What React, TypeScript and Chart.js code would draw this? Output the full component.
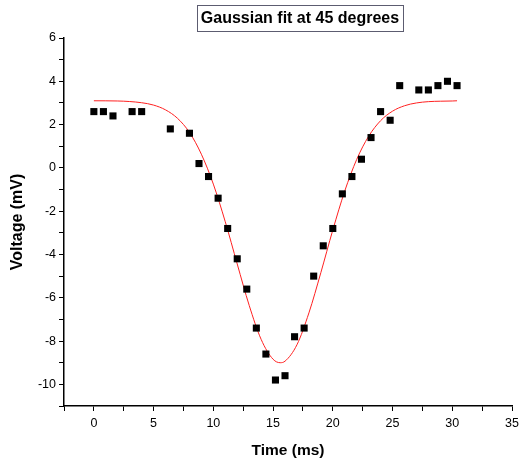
import React, { useEffect, useRef } from "react";
import { Chart, registerables } from "chart.js";

Chart.register(...registerables);

const TITLE = "Gaussian fit at 45 degrees";
const X_TITLE = "Time (ms)";
const Y_TITLE = "Voltage (mV)";

// measured data (Time ms, Voltage mV)
const timeData = [0, 0.8, 1.6, 3.2, 4.0, 6.4, 8.0, 8.8, 9.6, 10.4, 11.2, 12.0, 12.8, 13.6, 14.4, 15.2, 16.0, 16.8, 17.6, 18.4, 19.2, 20.0, 20.8, 21.6, 22.4, 23.2, 24.0, 24.8, 25.6, 27.2, 28.0, 28.8, 29.6, 30.4];
const voltageData = [2.6, 2.6, 2.4, 2.6, 2.6, 1.8, 1.6, 0.2, -0.4, -1.4, -2.8, -4.2, -5.6, -7.4, -8.6, -9.8, -9.6, -7.8, -7.4, -5.0, -3.6, -2.8, -1.2, -0.4, 0.4, 1.4, 2.6, 2.2, 3.8, 3.6, 3.6, 3.8, 4.0, 3.8];

// fit curve
const fitTime = [0, 2, 4, 5, 6, 7, 8, 9, 10, 11, 12, 13, 14, 15, 15.6, 16, 17, 18, 19, 20, 21, 22, 23, 24, 25, 26, 27, 28, 29, 30, 30.4];
const fitVoltage = [3.1, 3.09, 3.01, 2.9, 2.68, 2.29, 1.64, 0.63, -0.75, -2.49, -4.44, -6.35, -7.92, -8.84, -9.0, -8.93, -8.17, -6.7, -4.84, -2.87, -1.07, 0.39, 1.46, 2.18, 2.62, 2.87, 3.0, 3.06, 3.08, 3.09, 3.1];

const FONT = '"Liberation Sans", Arial, sans-serif';

const titleBoxPlugin = {
  id: "titleBox",
  afterDraw(chart: any) {
    const ctx = chart.ctx;
    ctx.save();
    ctx.font = `bold 16px ${FONT}`;
    const w = ctx.measureText(TITLE).width;
    const cx = 300;
    const cy = 18.5;
    const left = Math.round(cx - w / 2 - 4) + 0.5;
    const right = Math.round(cx + w / 2 + 4) + 0.5;
    ctx.strokeStyle = "#5c5c70";
    ctx.lineWidth = 1;
    ctx.strokeRect(left, 5.5, right - left, 26);
    ctx.fillStyle = "#000";
    ctx.textAlign = "center";
    ctx.textBaseline = "middle";
    ctx.fillText(TITLE, cx, cy + 0.5);
    ctx.restore();
  },
};

export default function App() {
  const ref = useRef<HTMLCanvasElement | null>(null);
  useEffect(() => {
    if (!ref.current) return;
    const chart = new Chart(ref.current, {
      type: "scatter",
      data: {
        datasets: [
          {
            label: "data",
            data: timeData.map((t, i) => ({ x: t, y: voltageData[i] })),
            pointStyle: "rect",
            pointRadius: 5,
            backgroundColor: "#000",
            borderColor: "#000",
            borderWidth: 0,
            showLine: false,
            order: 1,
          },
          {
            label: "fit",
            data: fitTime.map((t, i) => ({ x: t, y: fitVoltage[i] })),
            showLine: true,
            pointRadius: 0,
            borderColor: "#ff2020",
            borderWidth: 1,
            cubicInterpolationMode: "monotone",
            order: 2,
          } as any,
        ],
      },
      options: {
        animation: false,
        responsive: false,
        events: [],
        layout: { padding: { top: 38, right: 16, bottom: 0, left: 8 } },
        plugins: {
          legend: { display: false },
          tooltip: { enabled: false },
          title: { display: false },
        },
        scales: {
          x: {
            type: "linear",
            min: -2.5,
            max: 35,
            afterFit(scale: any) {
              scale.height = 54;
            },
            border: { display: true, color: "#000", width: 1.5 },
            grid: { drawOnChartArea: false, drawTicks: true, tickLength: 5, tickColor: "#000" },
            ticks: {
              stepSize: 2.5,
              autoSkip: false,
              maxRotation: 0,
              color: "#000",
              font: { family: FONT, size: 12.5 },
              padding: 5,
              callback: (v: any) => (Math.abs(v % 5) < 1e-9 ? String(v) : ""),
            },
            title: {
              display: true,
              text: X_TITLE,
              color: "#000",
              font: { family: FONT, size: 15.5, weight: "bold" },
              padding: { top: 3, bottom: 0 },
            },
          },
          y: {
            type: "linear",
            min: -11,
            max: 6,
            afterFit(scale: any) {
              scale.width = 56;
            },
            border: { display: true, color: "#000", width: 1.5 },
            grid: { drawOnChartArea: false, drawTicks: true, tickLength: 5, tickColor: "#000" },
            ticks: {
              stepSize: 1,
              autoSkip: false,
              color: "#000",
              font: { family: FONT, size: 12.5 },
              padding: 3,
              callback: (v: any) => (Math.abs(v % 2) < 1e-9 ? String(v) : ""),
            },
            title: {
              display: true,
              text: Y_TITLE,
              color: "#000",
              font: { family: FONT, size: 16, weight: "bold" },
              padding: { top: 0, bottom: 2 },
            },
          },
        },
      } as any,
      plugins: [titleBoxPlugin],
    });
    return () => chart.destroy();
  }, []);
  return (
    <div style={{ position: "absolute", left: 0, top: 0, width: 528, height: 460, background: "#fff" }}>
      <canvas ref={ref} width={528} height={460} style={{ width: 528, height: 460 }} />
    </div>
  );
}
